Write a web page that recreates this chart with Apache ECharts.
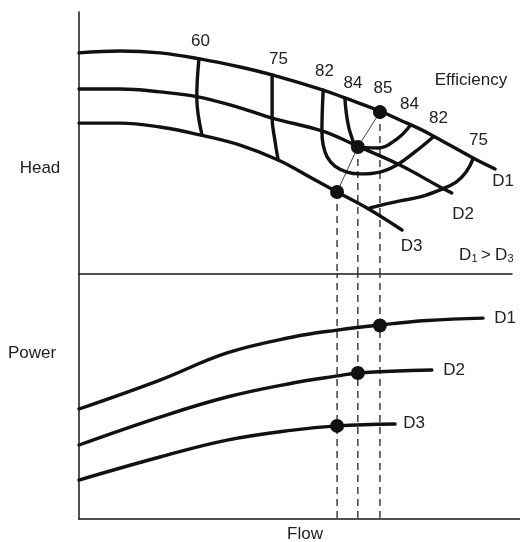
<!DOCTYPE html>
<html>
<head>
<meta charset="utf-8">
<script src="https://cdn.jsdelivr.net/npm/echarts@6/dist/echarts.min.js"></script>
<style>
html,body{margin:0;padding:0;background:#fff;}
#chart{width:520px;height:542px;}
</style>
</head>
<body>
<div id="chart"></div>
<script>
// ---- Head curves (flow %, head %) ----
const d1HeadFlow = [0, 9.5, 18.7, 27.9, 37.2, 44.6, 56.4, 61.4, 69.5, 74.1, 78.8, 81.8, 91.0, 96.1];
const d1Head     = [84.4, 85.1, 84.4, 82.1, 79.0, 76.0, 70.2, 67.2, 62.2, 58.8, 55.3, 52.7, 44.3, 40.1];
const d2HeadFlow = [0, 9.5, 18.7, 27.5, 37.2, 44.6, 56.1, 64.2, 74.1, 83.4, 86.1];
const d2Head     = [70.6, 70.6, 69.5, 67.6, 63.4, 59.5, 54.6, 48.9, 41.6, 33.2, 30.9];
const d3HeadFlow = [0, 9.5, 18.7, 27.9, 37.2, 46.0, 53.3, 59.6, 66.5, 74.6];
const d3Head     = [57.6, 57.6, 56.1, 53.1, 49.2, 43.5, 37.0, 31.3, 25.2, 16.8];

// ---- Efficiency contours (flow, head) ----
const eff60Flow  = [27.7, 27.2, 28.4];
const eff60Head  = [82.1, 67.6, 53.1];
const eff75aFlow = [44.6, 44.6, 45.3, 46.0];
const eff75aHead = [76.0, 59.5, 50.4, 43.5];
const eff82Flow  = [56.4, 56.1, 56.4, 57.3, 59.1, 61.9, 64.9, 69.5, 73.4, 77.6, 81.8];
const eff82Head  = [70.2, 54.6, 49.2, 44.7, 41.2, 38.9, 38.2, 38.9, 41.6, 46.6, 52.3];
const eff84Flow  = [61.4, 61.9, 62.8, 64.4, 69.1, 73.4, 76.4];
const eff84Head  = [67.2, 59.5, 53.1, 48.5, 48.1, 51.5, 56.5];
const eff75bFlow = [91.0, 89.4, 87.1, 83.4, 78.8, 74.1, 70.7, 67.2];
const eff75bHead = [43.9, 38.9, 35.1, 32.1, 29.4, 27.9, 26.7, 25.2];

// ---- Best efficiency points D1, D2, D3 ----
const bepFlow  = [69.5, 64.4, 59.6];
const bepHead  = [61.8, 48.5, 31.3];
const bepPower = [79.0, 59.6, 38.0];

// ---- Power curves (flow, power %) ----
const d1PowFlow = [0, 18.7, 34.2, 49.4, 59.6, 69.5, 80.4, 93.3];
const d1Power   = [44.9, 56.7, 67.8, 74.3, 77.1, 79.2, 81.0, 82.0];
const d2PowFlow = [0, 18.7, 34.2, 49.4, 59.6, 64.4, 81.5];
const d2Power   = [30.2, 41.6, 49.8, 55.5, 58.4, 59.6, 60.8];
const d3PowFlow = [0, 18.7, 34.2, 49.4, 59.6, 73.0];
const d3Power   = [15.9, 25.3, 32.2, 36.3, 38.0, 38.8];

// ---- Texts ----
const effLabels   = ['60', '75', '82', '84', '85', '84', '82', '75'];
const curveNames  = ['D1', 'D2', 'D3'];
const axisNames   = ['Head', 'Power', 'Flow'];
const effTitle    = 'Efficiency';

const zip = (a, b) => a.map((v, i) => [v, b[i]]);
const INK = '#111';
const FONT = '"Liberation Sans", Arial, sans-serif';

const thick = (name, xs, ys, gi) => ({
  name, type: 'line', xAxisIndex: gi, yAxisIndex: gi,
  data: zip(xs, ys), smooth: 0.4,
  showSymbol: false, symbol: 'none',
  lineStyle: { color: INK, width: 3.4, cap: 'round' }, z: 3, silent: true
});

const series = [
  thick('D1 head', d1HeadFlow, d1Head, 0),
  thick('D2 head', d2HeadFlow, d2Head, 0),
  thick('D3 head', d3HeadFlow, d3Head, 0),
  thick('eff60', eff60Flow, eff60Head, 0),
  thick('eff75a', eff75aFlow, eff75aHead, 0),
  thick('eff82', eff82Flow, eff82Head, 0),
  thick('eff84', eff84Flow, eff84Head, 0),
  thick('eff75b', eff75bFlow, eff75bHead, 0),
  thick('D1 power', d1PowFlow, d1Power, 1),
  thick('D2 power', d2PowFlow, d2Power, 1),
  thick('D3 power', d3PowFlow, d3Power, 1),
  {
    name: 'bep link', type: 'line', xAxisIndex: 0, yAxisIndex: 0,
    data: zip(bepFlow, bepHead).slice().reverse(), showSymbol: false, symbol: 'none',
    lineStyle: { color: '#444', width: 1 }, z: 2, silent: true
  }
];
bepFlow.forEach((f, i) => {
  series.push({
    type: 'line', xAxisIndex: 0, yAxisIndex: 0, data: [[f, bepHead[i]], [f, 0]],
    showSymbol: false, symbol: 'none', lineStyle: { color: '#222', width: 1.3, type: [7, 5] }, z: 1, silent: true
  });
  series.push({
    type: 'line', xAxisIndex: 1, yAxisIndex: 1, data: [[f, 100], [f, 0]],
    showSymbol: false, symbol: 'none', lineStyle: { color: '#222', width: 1.3, type: [7, 5], dashOffset: 3 }, z: 1, silent: true
  });
});
series.push({
  type: 'scatter', xAxisIndex: 0, yAxisIndex: 0, data: zip(bepFlow, bepHead),
  symbolSize: 14, itemStyle: { color: INK, opacity: 1 }, z: 5, silent: true
});
series.push({
  type: 'scatter', xAxisIndex: 1, yAxisIndex: 1, data: zip(bepFlow, bepPower),
  symbolSize: 14, itemStyle: { color: INK, opacity: 1 }, z: 5, silent: true
});

const axisLineStyle = { show: true, onZero: false, lineStyle: { color: '#1a1a1a', width: 1.5 } };
const bare = { axisTick: { show: false }, axisLabel: { show: false }, splitLine: { show: false } };

const txt = (text, x, y, size, align) => ({
  type: 'text', silent: true,
  style: { text, x, y, fill: '#222', font: (size || 17) + 'px ' + FONT,
           textAlign: align || 'center', textVerticalAlign: 'middle' }
});

const graphics = [
  txt(axisNames[0], 40, 168),
  txt(axisNames[1], 32, 353),
  txt(axisNames[2], 305, 534),
  txt(effTitle, 471, 80),
  txt(effLabels[0], 200.5, 41.5),
  txt(effLabels[1], 278.5, 59),
  txt(effLabels[2], 324.5, 71),
  txt(effLabels[3], 353, 83.5),
  txt(effLabels[4], 383, 88),
  txt(effLabels[5], 409.5, 104),
  txt(effLabels[6], 438.5, 118),
  txt(effLabels[7], 478.5, 140),
  txt(curveNames[0], 503, 181.5),
  txt(curveNames[1], 463, 214),
  txt(curveNames[2], 411.5, 246.5),
  txt(curveNames[0], 505, 318.5),
  txt(curveNames[1], 454, 370),
  txt(curveNames[2], 414, 423.5),
  txt('D', 459, 255, 17, 'left'),
  txt('1', 471.5, 259, 11, 'left'),
  txt('>', 481, 255, 17, 'left'),
  txt('D', 495, 255, 17, 'left'),
  txt('3', 507.5, 259, 11, 'left')
];

const chart = echarts.init(document.getElementById('chart'), null, { renderer: 'canvas' });
chart.setOption({
  animation: false,
  backgroundColor: '#fff',
  grid: [
    { left: 79, top: 12, width: 433, height: 262 },
    { left: 79, top: 274, width: 441, height: 245 }
  ],
  xAxis: [
    Object.assign({ type: 'value', gridIndex: 0, min: 0, max: 100, axisLine: axisLineStyle }, bare),
    Object.assign({ type: 'value', gridIndex: 1, min: 0, max: 100 * 441 / 433, axisLine: axisLineStyle }, bare)
  ],
  yAxis: [
    Object.assign({ type: 'value', gridIndex: 0, min: 0, max: 100, axisLine: axisLineStyle }, bare),
    Object.assign({ type: 'value', gridIndex: 1, min: 0, max: 100, axisLine: axisLineStyle }, bare)
  ],
  series,
  graphic: graphics
});
</script>
</body>
</html>
